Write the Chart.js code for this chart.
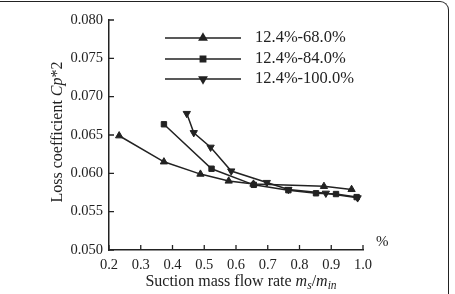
<!DOCTYPE html>
<html>
<head>
<meta charset="utf-8">
<script src="https://cdn.jsdelivr.net/npm/chart.js@4.4.1/dist/chart.umd.min.js"></script>
<style>
  body { margin: 0; background: #fff; }
  #box { position: relative; width: 455px; height: 294px; }
  #frame {
    position: absolute; left: -4px; top: 1px; width: 452px; height: 300px;
    border-top: 1.5px solid #222; border-right: 1.5px solid #222;
    border-top-right-radius: 9px; pointer-events: none;
  }
</style>
</head>
<body>
<div id="box">
  <canvas id="chart" width="455" height="294"></canvas>
  <div id="frame"></div>
</div>
<script>
const xTicks = [0.2, 0.3, 0.4, 0.5, 0.6, 0.7, 0.8, 0.9, 1.0];
const yTicks = [0.050, 0.055, 0.060, 0.065, 0.070, 0.075, 0.080];

const seriesNames = ["12.4%-68.0%", "12.4%-84.0%", "12.4%-100.0%"];

const flow68 = [0.232, 0.373, 0.488, 0.577, 0.655, 0.877, 0.964];
const loss68 = [0.0649, 0.0615, 0.0599, 0.0590, 0.0586, 0.0583, 0.0579];

const flow84 = [0.373, 0.523, 0.656, 0.765, 0.852, 0.915, 0.980];
const loss84 = [0.0664, 0.0606, 0.0585, 0.0578, 0.0574, 0.0573, 0.0569];

const flow100 = [0.445, 0.467, 0.520, 0.585, 0.697, 0.765, 0.883, 0.983];
const loss100 = [0.0678, 0.0653, 0.0634, 0.0603, 0.0588, 0.0579, 0.0574, 0.0568];

const ink = "#222";
const serif = "'Liberation Serif', 'Times New Roman', serif";

function toPoints(xs, ys) {
  return xs.map((x, i) => ({ x, y: ys[i] }));
}

const styles = [
  { pointStyle: "triangle", rotation: 0, radius: 4.2 },
  { pointStyle: "rect", rotation: 0, radius: 3.8 },
  { pointStyle: "triangle", rotation: 180, radius: 4.2 },
];

const datasets = [
  toPoints(flow68, loss68),
  toPoints(flow84, loss84),
  toPoints(flow100, loss100),
].map((data, i) => ({
  label: seriesNames[i],
  data,
  borderColor: ink,
  backgroundColor: ink,
  borderWidth: 1.5,
  pointStyle: styles[i].pointStyle,
  rotation: styles[i].rotation,
  pointRadius: styles[i].radius,
  pointBorderWidth: 1,
  tension: 0,
}));

// ticks point inward, drawn from the scales
const innerTicks = {
  id: "innerTicks",
  afterDraw(chart) {
    const { ctx, chartArea, scales } = chart;
    ctx.save();
    ctx.strokeStyle = ink;
    ctx.lineWidth = 1.3;
    ctx.beginPath();
    xTicks.forEach((v) => {
      const px = scales.x.getPixelForValue(v);
      ctx.moveTo(px, chartArea.bottom);
      ctx.lineTo(px, chartArea.bottom - 5);
    });
    yTicks.forEach((v) => {
      const py = scales.y.getPixelForValue(v);
      ctx.moveTo(chartArea.left, py);
      ctx.lineTo(chartArea.left + 5, py);
    });
    ctx.stroke();
    ctx.restore();
  },
};

function drawMarker(ctx, style, x, y) {
  Chart.helpers.drawPoint(ctx, {
    pointStyle: style.pointStyle,
    rotation: style.rotation,
    radius: style.radius,
    borderWidth: 1,
  }, x, y);
}

function setFont(ctx, italic, sub) {
  const size = sub ? 11.5 : 16;
  ctx.font = (italic ? "italic " : "") + size + "px " + serif;
}

function drawRuns(ctx, runs, x, y) {
  // runs: [text, italic, subscript]
  runs.forEach(([text, italic, sub]) => {
    setFont(ctx, italic, sub);
    ctx.fillText(text, x, y + (sub ? 3.5 : 0));
    x += ctx.measureText(text).width;
  });
  return x;
}

function runsWidth(ctx, runs) {
  let w = 0;
  runs.forEach(([text, italic, sub]) => {
    setFont(ctx, italic, sub);
    w += ctx.measureText(text).width;
  });
  return w;
}

const decorations = {
  id: "decorations",
  afterDraw(chart) {
    const { ctx, chartArea } = chart;
    ctx.save();
    ctx.fillStyle = ink;
    ctx.strokeStyle = ink;
    ctx.textBaseline = "middle";

    // legend
    const rowY = [38, 59, 79];
    seriesNames.forEach((name, i) => {
      const y = rowY[i];
      ctx.lineWidth = 1.5;
      ctx.beginPath();
      ctx.moveTo(165, y);
      ctx.lineTo(241, y);
      ctx.stroke();
      drawMarker(ctx, styles[i], 203, y);
      ctx.font = "16.5px " + serif;
      ctx.textAlign = "left";
      ctx.fillText(name, 255, y);
    });

    // percent sign at end of x axis
    ctx.font = "15px " + serif;
    ctx.textAlign = "left";
    ctx.fillText("%", 376, 242);

    // x axis title
    const xRuns = [["Suction mass flow rate ", false, false], ["m", true, false], ["s", true, true], ["/", false, false], ["m", true, false], ["in", true, true]];
    const xw = runsWidth(ctx, xRuns);
    drawRuns(ctx, xRuns, (chartArea.left + chartArea.right) / 2 - xw / 2 + 5, 282);

    // y axis title
    const yRuns = [["Loss coefficient ", false, false], ["Cp", true, false], ["*2", false, false]];
    const yw = runsWidth(ctx, yRuns);
    ctx.translate(58, 132);
    ctx.rotate(-Math.PI / 2);
    drawRuns(ctx, yRuns, -yw / 2, 0);
    ctx.restore();
  },
};

new Chart(document.getElementById("chart"), {
  type: "line",
  data: { datasets },
  options: {
    responsive: false,
    animation: false,
    layout: { padding: { top: 20, right: 92, bottom: 0, left: 0 } },
    plugins: { legend: { display: false }, tooltip: { enabled: false } },
    scales: {
      x: {
        type: "linear",
        min: 0.2,
        max: 1.0,
        afterBuildTicks: (axis) => { axis.ticks = xTicks.map((v) => ({ value: v })); },
        afterFit: (axis) => { axis.height = 44; },
        grid: { display: false, drawTicks: false },
        border: { display: true, color: ink, width: 1.5 },
        ticks: {
          color: ink,
          padding: 6,
          maxRotation: 0,
          font: { family: serif, size: 14.5 },
          callback: (v) => v.toFixed(1),
        },
      },
      y: {
        type: "linear",
        min: 0.05,
        max: 0.08,
        afterBuildTicks: (axis) => { axis.ticks = yTicks.map((v) => ({ value: v })); },
        afterFit: (axis) => { axis.width = 109; },
        grid: { display: false, drawTicks: false },
        border: { display: true, color: ink, width: 1.5 },
        ticks: {
          color: ink,
          padding: 6,
          font: { family: serif, size: 14.5 },
          callback: (v) => v.toFixed(3),
        },
      },
    },
  },
  plugins: [innerTicks, decorations],
});
</script>
</body>
</html>
